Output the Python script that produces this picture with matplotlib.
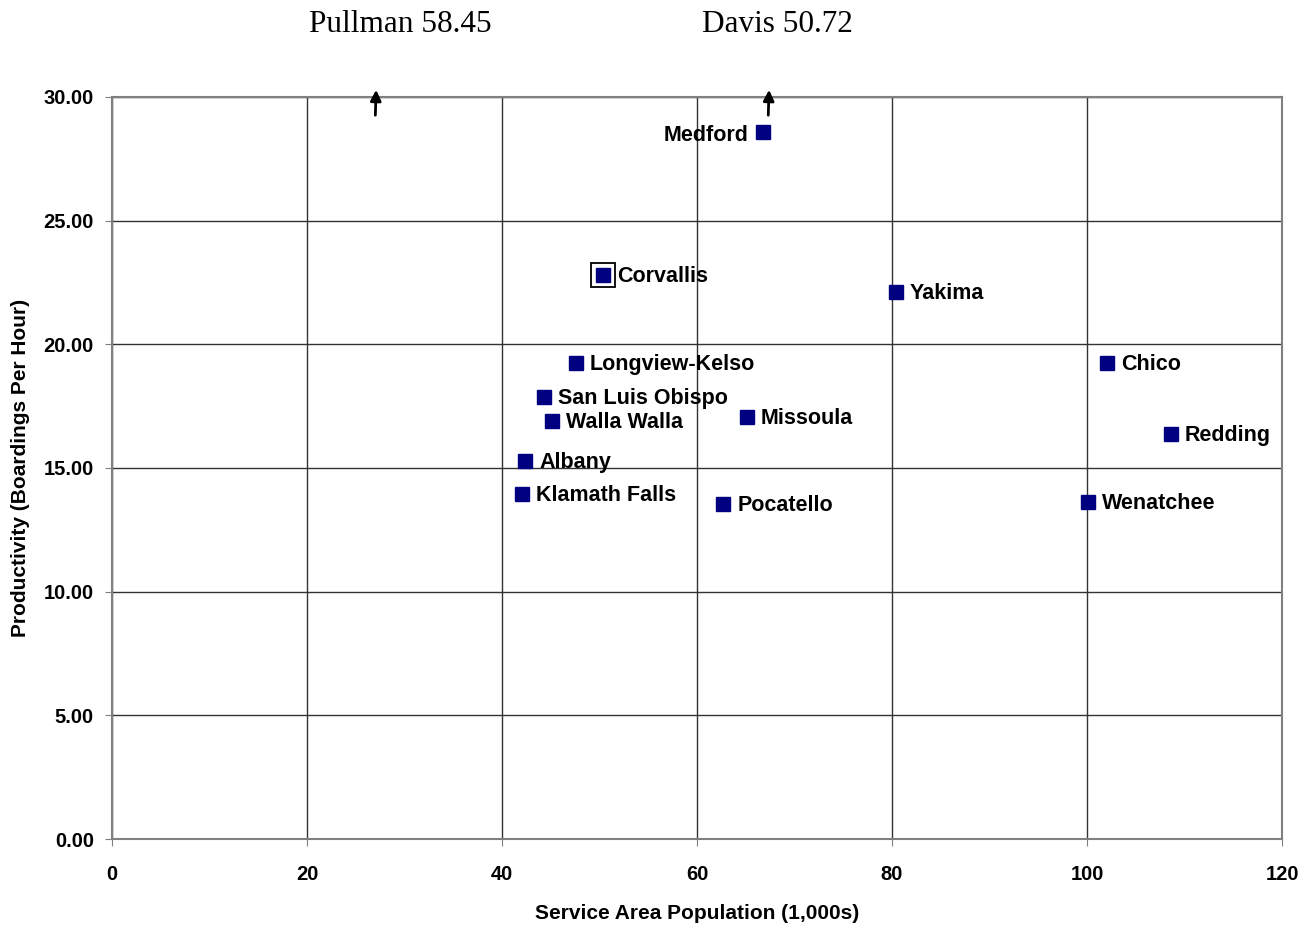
import matplotlib

matplotlib.use("Agg")

import matplotlib.pyplot as plt
from matplotlib.ticker import FormatStrFormatter

plt.rcParams["font.family"] = ["Liberation Sans", "DejaVu Sans"]

cities = [
    "Medford", "Corvallis", "Yakima", "Longview-Kelso", "Chico",
    "San Luis Obispo", "Walla Walla", "Missoula", "Redding", "Albany",
    "Klamath Falls", "Pocatello", "Wenatchee",
]
population = [66.8, 50.4, 80.4, 47.6, 102.1, 44.3, 45.1, 65.1, 108.6, 42.4, 42.1, 62.7, 100.1]
productivity = [28.6, 22.8, 22.1, 19.25, 19.25, 17.87, 16.9, 17.06, 16.38, 15.28, 13.95, 13.55, 13.63]

# off-scale systems shown with arrows above the plot
offscale_names = ["Pullman", "Davis"]
offscale_population = [27.1, 67.4]
offscale_productivity = [58.45, 50.72]

fig = plt.figure(figsize=(13.13, 9.27), dpi=100)
ax = fig.add_axes([0.0853, 0.0949, 0.8911, 0.8005])

ax.set_xlim(0, 120)
ax.set_ylim(0, 30)
ax.set_xticks(range(0, 121, 20))
ax.set_yticks([0, 5, 10, 15, 20, 25, 30])
ax.yaxis.set_major_formatter(FormatStrFormatter("%.2f"))
ax.grid(True, color="#333333", linewidth=1.0)
ax.set_axisbelow(True)
for s in ax.spines.values():
    s.set_color("#808080")
    s.set_linewidth(1.5)
ax.tick_params(direction="out", length=5, color="#808080", labelsize=14.5)
ax.tick_params(axis="x", pad=14)
ax.tick_params(axis="y", pad=8)
for lbl in ax.get_xticklabels() + ax.get_yticklabels():
    lbl.set_fontweight("bold")

ax.plot(population, productivity, "s", color="#000080", markersize=10, clip_on=False)

for name, x, y in zip(cities, population, productivity):
    if name == "Medford":
        ax.annotate(name, (x, y), xytext=(-11, -3), textcoords="offset points",
                    ha="right", va="center", fontsize=15.5, fontweight="bold")
    else:
        ax.annotate(name, (x, y), xytext=(10, -1), textcoords="offset points",
                    ha="left", va="center", fontsize=15.5, fontweight="bold")
    if name == "Corvallis":
        ax.plot([x], [y], "s", markersize=17, markerfacecolor="none",
                markeredgecolor="black", markeredgewidth=1.3)

for name, x, v in zip(offscale_names, offscale_population, offscale_productivity):
    ax.annotate("", xy=(x, 30.4), xytext=(x - 0.1, 29.15),
                arrowprops=dict(arrowstyle="-|>", color="black", lw=2,
                                mutation_scale=16),
                annotation_clip=False)

fig.text(400 / 1313, 1 - 24 / 927, f"{offscale_names[0]} {offscale_productivity[0]:.2f}",
         ha="center", va="center", fontsize=22.5, family="Liberation Serif")
fig.text(777 / 1313, 1 - 24 / 927, f"{offscale_names[1]} {offscale_productivity[1]:.2f}",
         ha="center", va="center", fontsize=22.5, family="Liberation Serif")

ax.set_xlabel("Service Area Population (1,000s)", fontsize=15, fontweight="bold", labelpad=14)
ax.set_ylabel("Productivity (Boardings Per Hour)", fontsize=15, fontweight="bold", labelpad=10)

fig.savefig("out.png", dpi=100)
